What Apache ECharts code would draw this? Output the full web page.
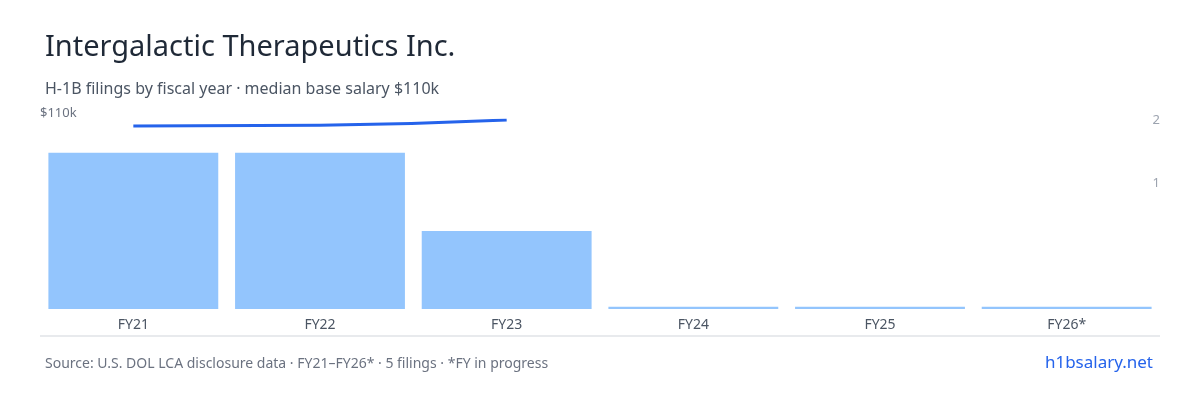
<!DOCTYPE html><html><head><meta charset="utf-8"><script src="https://cdn.jsdelivr.net/npm/echarts@6/dist/echarts.min.js"></script></head><body style="margin:0"><div id="c" style="width:1200px;height:400px"></div><script>
const categories=['FY21','FY22','FY23','FY24','FY25','FY26*'];
const filings=[2,2,1,0,0,0];
const salary=[106.5,107,110,null,null,null];
const c=echarts.init(document.getElementById('c'));
const F='"Noto Sans", sans-serif';
c.setOption({
 textStyle:{fontFamily:F},
 title:[{text:'Intergalactic Therapeutics Inc.',left:40,top:28,textStyle:{fontSize:29,fontWeight:'normal',color:'#1f2937',fontFamily:F}},
 {text:'H-1B filings by fiscal year · median base salary $110k',left:40,top:76,textStyle:{fontSize:16,fontWeight:'normal',color:'#4b5563',fontFamily:F}},
 {text:'Source: U.S. DOL LCA disclosure data · FY21–FY26* · 5 filings · *FY in progress',left:40,top:352,textStyle:{fontSize:14,fontWeight:'normal',color:'#6b7280',fontFamily:F}},
 {text:'h1bsalary.net',right:42,top:350,textStyle:{fontSize:17,fontWeight:'normal',color:'#2563eb',fontFamily:F}}],
 grid:{left:40,right:40,top:120,bottom:91},
 xAxis:{type:'category',data:categories,axisTick:{show:false},axisLine:{show:false},axisLabel:{color:'#4b5563',fontSize:14,margin:9}},
 yAxis:[
  {type:'value',min:0,max:2.42,show:false},
  {type:'value',min:0,max:110,position:'left',splitLine:{show:false},axisLine:{show:false},axisTick:{show:false},interval:110,
   axisLabel:{inside:true,verticalAlign:'bottom',margin:0,color:'#6b7280',fontSize:13,formatter:v=>v===110?'$110k':''}},
  {type:'value',min:-1,max:2,interval:1,position:'right',splitLine:{show:false},axisLine:{show:false},axisTick:{show:false},
   axisLabel:{color:'#9ca3af',fontSize:13,margin:0,align:'right',formatter:v=>v>0?v:''}}
 ],
 graphic:[{type:'line',shape:{x1:40,y1:336,x2:1160,y2:336},style:{stroke:'#d1d5db',lineWidth:1}}],
 series:[
  {type:'bar',data:filings.map(v=>v===0?0.03:v),yAxisIndex:0,barCategoryGap:'9%',itemStyle:{color:'#93c5fd'},silent:true},
  {type:'line',data:salary,yAxisIndex:1,smooth:true,symbol:'none',lineStyle:{color:'#2563eb',width:3},silent:true}
 ]
});
</script></body></html>
